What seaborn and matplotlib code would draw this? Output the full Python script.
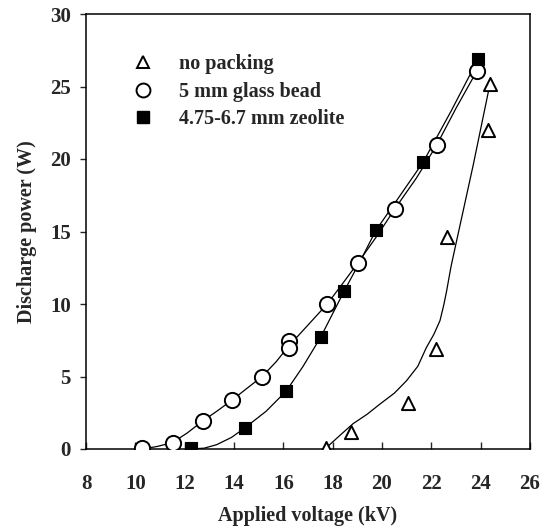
import matplotlib
matplotlib.use("Agg")
import matplotlib.pyplot as plt
from matplotlib.lines import Line2D
import seaborn as sns

# ---- data ----
glass_v = [10.26, 11.51, 12.73, 13.91, 15.14, 16.22, 16.22, 17.78, 19.03, 20.52, 22.21, 23.84]
glass_p = [0.05, 0.44, 1.93, 3.36, 5.00, 7.42, 6.96, 10.0, 12.85, 16.56, 20.94, 26.05]

zeo_v = [12.25, 14.45, 16.12, 17.51, 18.46, 19.75, 21.67, 23.91]
zeo_p = [0.10, 1.47, 4.00, 7.70, 10.87, 15.07, 19.79, 26.93]

nop_v = [17.72, 18.76, 21.04, 22.19, 22.62, 24.31, 24.38]
nop_p = [0.10, 1.20, 3.16, 6.89, 14.6, 22.0, 25.2]

# trend curves (as drawn in the picture)
glass_cv = [10.3, 10.9, 11.5, 12.1, 12.73, 13.3, 13.91, 14.5, 15.14, 15.7, 16.22, 17.0, 17.78, 18.4, 19.03, 19.8, 20.52, 21.4, 22.21, 23.0, 23.84]
glass_cp = [0.0, 0.18, 0.44, 1.1, 1.93, 2.6, 3.36, 4.15, 5.0, 6.0, 7.1, 8.55, 10.0, 11.4, 12.85, 14.7, 16.56, 18.7, 20.94, 23.5, 26.05]
zeo_cv = [12.25, 12.8, 13.3, 13.9, 14.45, 15.3, 16.12, 16.8, 17.51, 18.46, 19.1, 19.75, 20.7, 21.67, 22.8, 23.91]
zeo_cp = [0.0, 0.06, 0.3, 0.8, 1.47, 2.6, 4.0, 5.7, 7.7, 10.87, 12.9, 15.07, 17.4, 19.79, 23.3, 26.93]
nop_cv = [17.72, 18.3, 18.83, 19.4, 19.91, 20.5, 20.99, 21.45, 21.8, 22.1, 22.35, 22.5, 22.62, 22.8, 23.03, 23.7, 24.38]
nop_cp = [0.05, 0.95, 1.75, 2.4, 3.09, 3.85, 4.7, 5.7, 7.0, 7.9, 8.85, 9.9, 10.9, 12.6, 14.4, 19.6, 25.2]

labels = ["no packing", "5 mm glass bead", "4.75-6.7 mm zeolite"]
x_ticks = [8, 10, 12, 14, 16, 18, 20, 22, 24, 26]
y_ticks = [0, 5, 10, 15, 20, 25, 30]

sns.set_style("ticks")
plt.rcParams["font.family"] = ["Liberation Serif", "DejaVu Serif"]
plt.rcParams["font.weight"] = "bold"

W, H = 547, 530
x0, x1, y0, y1 = 86, 530, 449, 14
fig = plt.figure(figsize=(W / 100, H / 100), dpi=100)
ax = fig.add_axes([x0 / W, 1 - y0 / H, (x1 - x0) / W, (y0 - y1) / H])

lw = 0.9
for cv, cp in [(glass_cv, glass_cp), (zeo_cv, zeo_cp), (nop_cv, nop_cp)]:
    sns.lineplot(x=cv, y=cp, ax=ax, color="black", linewidth=lw, sort=False,
                 estimator=None, legend=False, zorder=2)

sns.scatterplot(x=nop_v, y=nop_p, ax=ax, marker="^", s=90, facecolor="white",
                edgecolor="black", linewidth=1.4, zorder=3, legend=False)
sns.scatterplot(x=glass_v, y=glass_p, ax=ax, marker="o", s=120, facecolor="white",
                edgecolor="black", linewidth=1.4, zorder=3, legend=False)
sns.scatterplot(x=zeo_v, y=zeo_p, ax=ax, marker="s", s=75, color="black",
                edgecolor="black", linewidth=0.8, zorder=4, legend=False)

ax.set_xlim(8, 26)
ax.set_ylim(0, 30)
ax.set_xticks(x_ticks)
ax.set_yticks(y_ticks)
ax.tick_params(axis="x", direction="in", length=5, width=1, labelsize=15, pad=18)
ax.tick_params(axis="y", direction="out", length=4, width=1, labelsize=15, pad=7)
for lab in ax.get_xticklabels() + ax.get_yticklabels():
    lab.set_fontweight("bold")
for sp in ax.spines.values():
    sp.set_visible(True)
    sp.set_linewidth(1.1)
    sp.set_color("black")

ax.set_xlabel("Applied voltage (kV)", fontsize=14.5, fontweight="bold", labelpad=9)
ax.set_ylabel("Discharge power (W)", fontsize=14.5, fontweight="bold", labelpad=9)

handles = [
    Line2D([], [], linestyle="none", marker="^", markersize=9, markerfacecolor="white",
           markeredgecolor="black", markeredgewidth=1.4),
    Line2D([], [], linestyle="none", marker="o", markersize=10, markerfacecolor="white",
           markeredgecolor="black", markeredgewidth=1.4),
    Line2D([], [], linestyle="none", marker="s", markersize=8.5, markerfacecolor="black",
           markeredgecolor="black"),
]
leg = ax.legend(handles, labels, loc="upper left", bbox_to_anchor=(0.105, 0.908),
                frameon=False, fontsize=14.5, handletextpad=1.3, labelspacing=0.38,
                handlelength=1.0, borderaxespad=0, borderpad=0)
for t in leg.get_texts():
    t.set_fontweight("bold")

fig.savefig("out.png", dpi=100)
